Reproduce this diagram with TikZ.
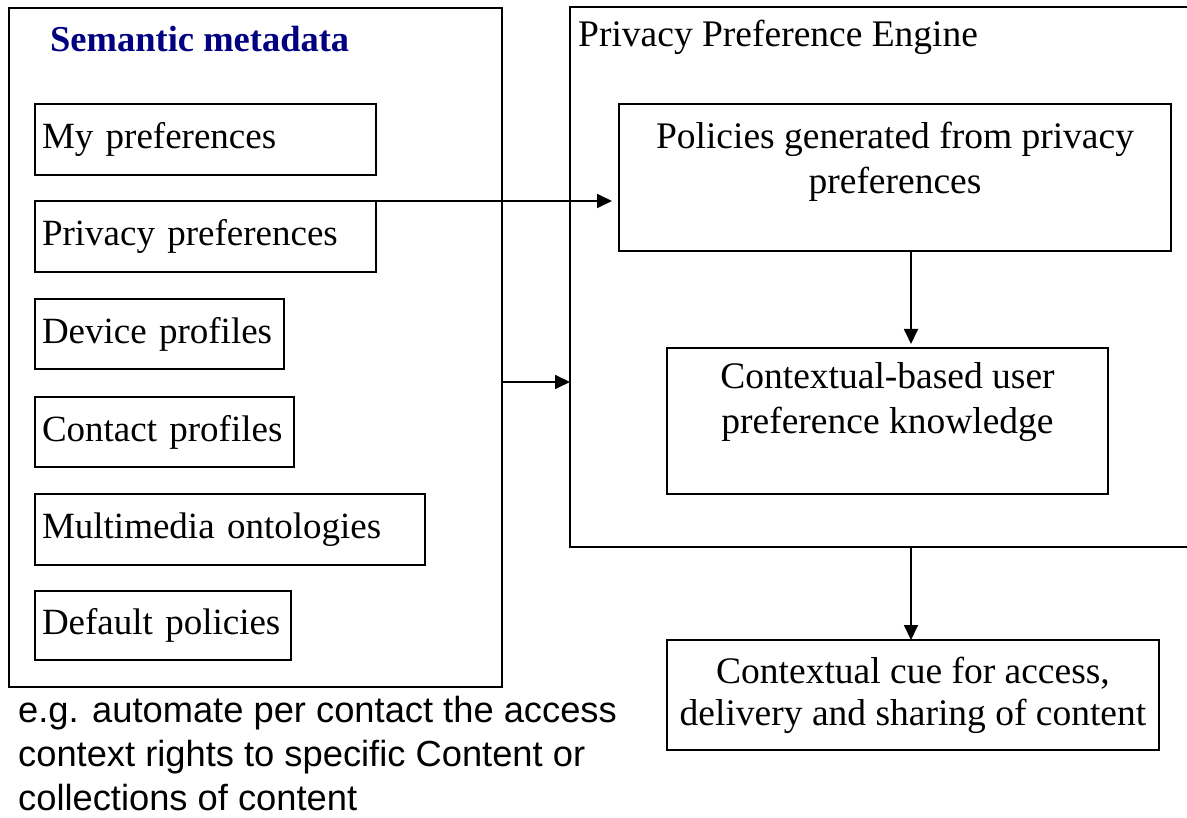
\documentclass[tikz,border=0pt]{standalone}
\usepackage{fontspec}
\setmainfont{Liberation Serif}
\setsansfont{Liberation Sans}
\usetikzlibrary{positioning,arrows.meta}
\definecolor{titlenavy}{RGB}{0,0,128}

\tikzset{
  frame/.style={draw, line width=1.6pt, inner sep=0pt, outer sep=0pt},
  itembox/.style={draw, line width=1.6pt, text width=#1, inner xsep=7pt, inner ysep=0pt, outer sep=0pt, minimum height=70pt, align=left, font=\fontsize{37}{44}\selectfont},
  boxtext/.style={inner sep=0pt, align=center},
  flow/.style={line width=1.8pt, -{Triangle[length=15pt,width=14pt]}}
}

\begin{document}
\begin{tikzpicture}[x=1pt, y=-1pt, font=\fontsize{37.5}{45}\selectfont]
\useasboundingbox (0,0) rectangle (1187,818);

% semantic metadata side
\node[frame, minimum width=493pt, minimum height=679pt, anchor=north west] (semantic) at (9,8) {};
\node[anchor=base west, inner sep=0pt, text=titlenavy, font=\fontsize{36.5}{44}\selectfont\bfseries] (semtitle) at ([xshift=41pt,yshift=-44pt]semantic.north west) {Semantic metadata};

\node[itembox=327pt, minimum height=71pt, anchor=north west] (mypref) at ([xshift=26pt,yshift=-96pt]semantic.north west) {My preferences};
\node[itembox=327pt, minimum height=71pt, anchor=north west] (privpref) at ([yshift=-26pt]mypref.south west) {Privacy preferences};
\node[itembox=235pt, anchor=north west] (device) at ([yshift=-27pt]privpref.south west) {Device profiles};
\node[itembox=245pt, anchor=north west] (contact) at ([yshift=-28pt]device.south west) {Contact profiles};
\node[itembox=376pt, minimum height=71pt, anchor=north west] (multimedia) at ([yshift=-27pt]contact.south west) {Multimedia ontologies};
\node[itembox=242pt, minimum height=69pt, anchor=north west] (default) at ([yshift=-26pt]multimedia.south west) {Default policies};

\node[anchor=north west, inner sep=0pt, align=left, font=\sffamily\fontsize{36.3}{44}\selectfont] (example) at ([xshift=9pt,yshift=-9pt]semantic.south west) {e.g. automate per contact the access\\context rights to specific Content or\\collections of content};

% preference engine side
\node[frame, minimum width=650pt, minimum height=540pt, anchor=north west] (engine) at (570,7) {};
\node[anchor=base west, inner sep=0pt] (enginetitle) at ([xshift=8pt,yshift=-40pt]engine.north west) {Privacy Preference Engine};

\node[frame, minimum width=552pt, minimum height=147pt, anchor=north west] (policies) at ([xshift=49pt,yshift=-97pt]engine.north west) {};
\node[boxtext, anchor=north] (policiestext) at ([yshift=-17.5pt]policies.north) {Policies generated from privacy\\preferences};

\node[frame, minimum width=441pt, minimum height=146pt, anchor=north west] (context) at ([xshift=48pt,yshift=-97pt]policies.south west) {};
\node[boxtext, anchor=north] (contexttext) at ([yshift=-14.5pt]context.north) {Contextual-based user\\preference knowledge};

\node[frame, minimum width=492pt, minimum height=110pt, anchor=north west, align=center, font=\fontsize{37.5}{42}\selectfont] (cue) at ([yshift=-146pt]context.south west) {Contextual cue for access,\\delivery and sharing of content};

% connectors
\coordinate (feed) at ([yshift=-34.5pt]semantic.east);
\coordinate (polout) at ([xshift=16pt]policies.south);
\coordinate (cuein) at ([xshift=-2pt]cue.north);

\draw[flow, shorten >=7pt] (privpref.north east) -- (privpref.north east -| policies.west);
\draw[flow] (feed) -- (feed -| engine.west);
\draw[flow, shorten >=4pt] (polout) -- (polout |- context.north);
\draw[flow] (cuein |- engine.south) -- (cuein);

\end{tikzpicture}
\end{document}
